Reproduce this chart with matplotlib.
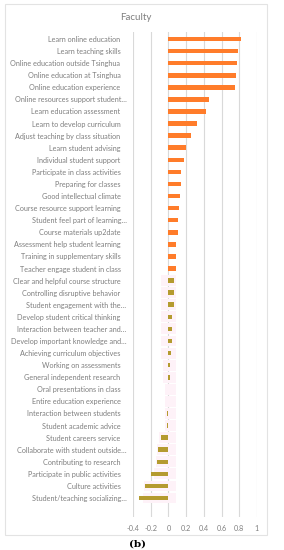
import numpy as np
import matplotlib
matplotlib.use("Agg")
from matplotlib import pyplot as plt
from matplotlib.patches import Rectangle
from matplotlib.transforms import ScaledTranslation

labels = [
    "Learn online education",
    "Learn teaching skills",
    "Online education outside Tsinghua",
    "Online education at Tsinghua",
    "Online education experience",
    "Online resources support student…",
    "Learn education assessment",
    "Learn to develop curriculum",
    "Adjust teaching by class situation",
    "Learn student advising",
    "Individual student support",
    "Participate in class activities",
    "Preparing for classes",
    "Good intellectual climate",
    "Course resource support learning",
    "Student feel part of learning…",
    "Course materials up2date",
    "Assessment help student learning",
    "Training in supplementary skills",
    "Teacher engage student in class",
    "Clear and helpful course structure",
    "Controlling disruptive behavior",
    "Student engagement with the…",
    "Develop student critical thinking",
    "Interaction between teacher and…",
    "Develop important knowledge and…",
    "Achieving curriculum objectives",
    "Working on assessments",
    "General independent research",
    "Oral presentations in class",
    "Entire education experience",
    "Interaction between students",
    "Student academic advice",
    "Student careers service",
    "Collaborate with student outside…",
    "Contributing to research",
    "Participate in public activities",
    "Culture activities",
    "Student/teaching socializing…",
]

values = [0.82, 0.78, 0.77, 0.765, 0.757, 0.46, 0.42, 0.32, 0.25, 0.20,
          0.18, 0.14, 0.14, 0.13, 0.12, 0.11, 0.11, 0.09, 0.087, 0.087,
          0.068, 0.068, 0.068, 0.042, 0.042, 0.04, 0.026, 0.02, 0.02, 0.0,
          -0.01, -0.015, -0.02, -0.087, -0.12, -0.125, -0.2, -0.27, -0.33]

# faint pink band behind the lower group
band_lo = [-0.08, -0.08, -0.08, -0.08, -0.08, -0.08, -0.08, -0.06, -0.06, -0.04,
           -0.04, -0.04, -0.04, -0.11, -0.13, -0.14, -0.16, -0.28, -0.29]
band_hi = 0.09

n_orange = 20
xticks = [-0.4, -0.2, 0, 0.2, 0.4, 0.6, 0.8, 1]
xticklabels = ["-0.4", "-0.2", "0", "0.2", "0.4", "0.6", "0.8", "1"]

orange = "#FF7C2A"
olive = "#B49B2F"
pink = "#FEF2F8"
grey = "#7F7F7F"

plt.rcParams['font.family'] = ['Lato', 'DejaVu Sans']

fig = plt.figure(figsize=(2.84, 5.5), dpi=100)
ax = fig.add_axes([133 / 284, 1 - 517 / 550, 124 / 284, 485 / 550])

y = np.arange(len(labels))
colors = [orange if i < n_orange else olive for i in range(len(labels))]

yb = y[n_orange:]
ax.barh(yb, band_hi - np.array(band_lo), left=band_lo, height=0.9,
        color=pink, zorder=1)
ax.barh(y, values, height=0.38, color=colors, zorder=3)

ax.set_xlim(-0.4, 1.0)
ax.set_ylim(len(labels) - 1 + 1.57, -0.58)
ax.set_xticks(xticks)
ax.set_xticklabels(xticklabels, fontsize=5.2, color=grey)
ax.set_yticks(y)
ax.set_yticklabels(labels, fontsize=5.2, color=grey)
ax.tick_params(length=0)
ax.tick_params(axis='y', pad=9)
ax.tick_params(axis='x', pad=6)
# truncated labels sit a bit further right, like in Excel
for lab in ax.get_yticklabels():
    if lab.get_text().endswith("…"):
        lab.set_transform(lab.get_transform() + ScaledTranslation(6 / 100, 0, fig.dpi_scale_trans))
ax.grid(axis='x', color='#D9D9D9', linewidth=0.8, zorder=0)
ax.set_axisbelow(True)
for s in ax.spines.values():
    s.set_visible(False)

fig.text(136 / 284, 1 - 17 / 550, "Faculty", ha='center', va='center',
         fontsize=7, color=grey)
fig.text(137 / 284, 1 - 544 / 550, "(b)", ha='center', va='center',
         fontsize=7.5, fontweight='bold', family='DejaVu Serif')

fig.patches.append(Rectangle((5 / 284, 1 - 535 / 550), 262 / 284, 531 / 550,
                             transform=fig.transFigure, fill=False,
                             edgecolor='#E3E3E3', linewidth=0.8))

fig.savefig("out.png", dpi=100)
